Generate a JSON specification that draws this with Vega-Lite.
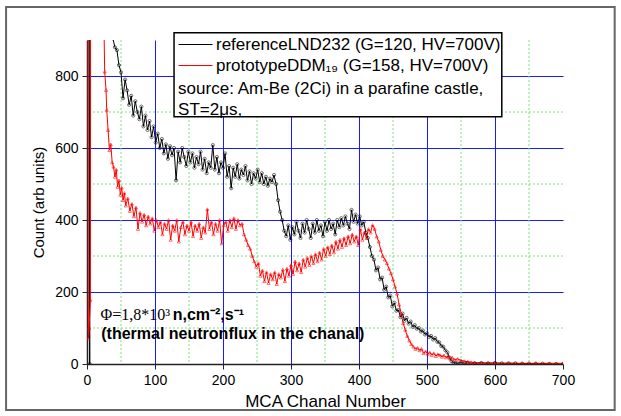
{
  "$schema": "https://vega.github.io/schema/vega-lite/v6.json",
  "width": 476,
  "height": 324,
  "autosize": "none",
  "padding": {"left": 87, "top": 40, "right": 58, "bottom": 52},
  "background": "white",
  "config": {
    "view": {"stroke": null},
    "axis": {
      "labelFont": "Liberation Sans",
      "titleFont": "Liberation Sans",
      "labelFontSize": 14,
      "titleFontWeight": "normal",
      "labelColor": "black",
      "titleColor": "black",
      "domainColor": "#222",
      "domainWidth": 1.5,
      "tickColor": "#222",
      "tickSize": 5,
      "labelOverlap": false,
      "labelFlush": false
    }
  },
  "datasets": {
    "spec": [
      {"ch":1,"cnt":2600,"det":"ref"},{"ch":4,"cnt":0,"det":"ref"},{"ch":5,"cnt":4000,"det":"ref"},{"ch":10,"cnt":3600,"det":"ref"},{"ch":15,"cnt":2900,"det":"ref"},{"ch":20,"cnt":2200,"det":"ref"},{"ch":25,"cnt":1700,"det":"ref"},{"ch":30,"cnt":1350,"det":"ref"},{"ch":35,"cnt":1050,"det":"ref"},{"ch":38,"cnt":905,"det":"ref"},{"ch":41,"cnt":880,"det":"ref"},{"ch":44,"cnt":872,"det":"ref"},{"ch":47,"cnt":830,"det":"ref"},{"ch":50,"cnt":810,"det":"ref"},{"ch":53,"cnt":738,"det":"ref"},{"ch":56,"cnt":790,"det":"ref"},{"ch":59,"cnt":760,"det":"ref"},{"ch":62,"cnt":720,"det":"ref"},{"ch":65,"cnt":745,"det":"ref"},{"ch":68,"cnt":690,"det":"ref"},{"ch":71,"cnt":730,"det":"ref"},{"ch":74,"cnt":700,"det":"ref"},{"ch":77,"cnt":680,"det":"ref"},{"ch":80,"cnt":715,"det":"ref"},{"ch":83,"cnt":660,"det":"ref"},{"ch":86,"cnt":690,"det":"ref"},{"ch":89,"cnt":650,"det":"ref"},{"ch":92,"cnt":675,"det":"ref"},{"ch":95,"cnt":630,"det":"ref"},{"ch":98,"cnt":660,"det":"ref"},{"ch":101,"cnt":615,"det":"ref"},{"ch":104,"cnt":640,"det":"ref"},{"ch":107,"cnt":600,"det":"ref"},{"ch":110,"cnt":625,"det":"ref"},{"ch":113,"cnt":585,"det":"ref"},{"ch":116,"cnt":610,"det":"ref"},{"ch":119,"cnt":570,"det":"ref"},{"ch":122,"cnt":605,"det":"ref"},{"ch":125,"cnt":580,"det":"ref"},{"ch":128,"cnt":600,"det":"ref"},{"ch":131,"cnt":510,"det":"ref"},{"ch":134,"cnt":590,"det":"ref"},{"ch":137,"cnt":560,"det":"ref"},{"ch":140,"cnt":600,"det":"ref"},{"ch":143,"cnt":575,"det":"ref"},{"ch":146,"cnt":550,"det":"ref"},{"ch":149,"cnt":590,"det":"ref"},{"ch":152,"cnt":560,"det":"ref"},{"ch":155,"cnt":585,"det":"ref"},{"ch":158,"cnt":545,"det":"ref"},{"ch":161,"cnt":575,"det":"ref"},{"ch":164,"cnt":555,"det":"ref"},{"ch":167,"cnt":590,"det":"ref"},{"ch":170,"cnt":540,"det":"ref"},{"ch":173,"cnt":570,"det":"ref"},{"ch":176,"cnt":530,"det":"ref"},{"ch":179,"cnt":560,"det":"ref"},{"ch":182,"cnt":545,"det":"ref"},{"ch":185,"cnt":608,"det":"ref"},{"ch":188,"cnt":540,"det":"ref"},{"ch":191,"cnt":575,"det":"ref"},{"ch":194,"cnt":530,"det":"ref"},{"ch":197,"cnt":560,"det":"ref"},{"ch":200,"cnt":545,"det":"ref"},{"ch":203,"cnt":585,"det":"ref"},{"ch":206,"cnt":520,"det":"ref"},{"ch":209,"cnt":550,"det":"ref"},{"ch":212,"cnt":488,"det":"ref"},{"ch":215,"cnt":545,"det":"ref"},{"ch":218,"cnt":520,"det":"ref"},{"ch":221,"cnt":555,"det":"ref"},{"ch":224,"cnt":515,"det":"ref"},{"ch":227,"cnt":540,"det":"ref"},{"ch":230,"cnt":525,"det":"ref"},{"ch":233,"cnt":550,"det":"ref"},{"ch":236,"cnt":510,"det":"ref"},{"ch":239,"cnt":535,"det":"ref"},{"ch":242,"cnt":500,"det":"ref"},{"ch":245,"cnt":530,"det":"ref"},{"ch":248,"cnt":515,"det":"ref"},{"ch":251,"cnt":540,"det":"ref"},{"ch":254,"cnt":505,"det":"ref"},{"ch":257,"cnt":530,"det":"ref"},{"ch":260,"cnt":500,"det":"ref"},{"ch":263,"cnt":520,"det":"ref"},{"ch":266,"cnt":495,"det":"ref"},{"ch":269,"cnt":515,"det":"ref"},{"ch":272,"cnt":505,"det":"ref"},{"ch":275,"cnt":525,"det":"ref"},{"ch":278,"cnt":500,"det":"ref"},{"ch":281,"cnt":455,"det":"ref"},{"ch":284,"cnt":423,"det":"ref"},{"ch":287,"cnt":400,"det":"ref"},{"ch":290,"cnt":370,"det":"ref"},{"ch":293,"cnt":355,"det":"ref"},{"ch":296,"cnt":385,"det":"ref"},{"ch":299,"cnt":345,"det":"ref"},{"ch":302,"cnt":380,"det":"ref"},{"ch":305,"cnt":360,"det":"ref"},{"ch":308,"cnt":395,"det":"ref"},{"ch":311,"cnt":370,"det":"ref"},{"ch":314,"cnt":350,"det":"ref"},{"ch":317,"cnt":390,"det":"ref"},{"ch":320,"cnt":365,"det":"ref"},{"ch":323,"cnt":400,"det":"ref"},{"ch":326,"cnt":375,"det":"ref"},{"ch":329,"cnt":350,"det":"ref"},{"ch":332,"cnt":390,"det":"ref"},{"ch":335,"cnt":365,"det":"ref"},{"ch":338,"cnt":400,"det":"ref"},{"ch":341,"cnt":370,"det":"ref"},{"ch":344,"cnt":385,"det":"ref"},{"ch":347,"cnt":355,"det":"ref"},{"ch":350,"cnt":395,"det":"ref"},{"ch":353,"cnt":370,"det":"ref"},{"ch":356,"cnt":400,"det":"ref"},{"ch":359,"cnt":375,"det":"ref"},{"ch":362,"cnt":390,"det":"ref"},{"ch":365,"cnt":360,"det":"ref"},{"ch":368,"cnt":400,"det":"ref"},{"ch":371,"cnt":380,"det":"ref"},{"ch":374,"cnt":405,"det":"ref"},{"ch":377,"cnt":385,"det":"ref"},{"ch":380,"cnt":410,"det":"ref"},{"ch":383,"cnt":390,"det":"ref"},{"ch":386,"cnt":375,"det":"ref"},{"ch":389,"cnt":428,"det":"ref"},{"ch":392,"cnt":395,"det":"ref"},{"ch":395,"cnt":415,"det":"ref"},{"ch":398,"cnt":390,"det":"ref"},{"ch":401,"cnt":410,"det":"ref"},{"ch":404,"cnt":385,"det":"ref"},{"ch":407,"cnt":395,"det":"ref"},{"ch":410,"cnt":365,"det":"ref"},{"ch":413,"cnt":350,"det":"ref"},{"ch":416,"cnt":325,"det":"ref"},{"ch":419,"cnt":300,"det":"ref"},{"ch":422,"cnt":290,"det":"ref"},{"ch":425,"cnt":260,"det":"ref"},{"ch":428,"cnt":268,"det":"ref"},{"ch":431,"cnt":235,"det":"ref"},{"ch":434,"cnt":240,"det":"ref"},{"ch":437,"cnt":206,"det":"ref"},{"ch":440,"cnt":215,"det":"ref"},{"ch":443,"cnt":185,"det":"ref"},{"ch":446,"cnt":190,"det":"ref"},{"ch":449,"cnt":160,"det":"ref"},{"ch":452,"cnt":170,"det":"ref"},{"ch":455,"cnt":148,"det":"ref"},{"ch":458,"cnt":150,"det":"ref"},{"ch":461,"cnt":130,"det":"ref"},{"ch":464,"cnt":140,"det":"ref"},{"ch":467,"cnt":120,"det":"ref"},{"ch":470,"cnt":128,"det":"ref"},{"ch":473,"cnt":112,"det":"ref"},{"ch":476,"cnt":118,"det":"ref"},{"ch":479,"cnt":103,"det":"ref"},{"ch":482,"cnt":108,"det":"ref"},{"ch":485,"cnt":98,"det":"ref"},{"ch":488,"cnt":100,"det":"ref"},{"ch":491,"cnt":90,"det":"ref"},{"ch":494,"cnt":93,"det":"ref"},{"ch":497,"cnt":82,"det":"ref"},{"ch":500,"cnt":85,"det":"ref"},{"ch":503,"cnt":75,"det":"ref"},{"ch":506,"cnt":78,"det":"ref"},{"ch":509,"cnt":68,"det":"ref"},{"ch":512,"cnt":72,"det":"ref"},{"ch":515,"cnt":62,"det":"ref"},{"ch":518,"cnt":60,"det":"ref"},{"ch":521,"cnt":50,"det":"ref"},{"ch":524,"cnt":48,"det":"ref"},{"ch":527,"cnt":38,"det":"ref"},{"ch":530,"cnt":32,"det":"ref"},{"ch":533,"cnt":18,"det":"ref"},{"ch":536,"cnt":8,"det":"ref"},{"ch":539,"cnt":4,"det":"ref"},{"ch":542,"cnt":3,"det":"ref"},{"ch":545,"cnt":2,"det":"ref"},{"ch":550,"cnt":4,"det":"ref"},{"ch":555,"cnt":2,"det":"ref"},{"ch":560,"cnt":3,"det":"ref"},{"ch":570,"cnt":2,"det":"ref"},{"ch":580,"cnt":3,"det":"ref"},{"ch":590,"cnt":2,"det":"ref"},{"ch":600,"cnt":3,"det":"ref"},{"ch":610,"cnt":2,"det":"ref"},{"ch":620,"cnt":2,"det":"ref"},{"ch":630,"cnt":2,"det":"ref"},{"ch":640,"cnt":1,"det":"ref"},{"ch":650,"cnt":1,"det":"ref"},{"ch":660,"cnt":1,"det":"ref"},{"ch":670,"cnt":1,"det":"ref"},{"ch":680,"cnt":0,"det":"ref"},{"ch":690,"cnt":0,"det":"ref"},{"ch":700,"cnt":0,"det":"ref"},
      {"ch":0,"cnt":3000,"det":"proto"},{"ch":2,"cnt":71,"det":"proto"},{"ch":3,"cnt":99,"det":"proto"},{"ch":5,"cnt":178,"det":"proto"},{"ch":6,"cnt":3200,"det":"proto"},{"ch":10,"cnt":2800,"det":"proto"},{"ch":15,"cnt":2200,"det":"proto"},{"ch":20,"cnt":1500,"det":"proto"},{"ch":24,"cnt":1050,"det":"proto"},{"ch":26,"cnt":812,"det":"proto"},{"ch":28,"cnt":761,"det":"proto"},{"ch":29,"cnt":706,"det":"proto"},{"ch":31,"cnt":650,"det":"proto"},{"ch":33,"cnt":594,"det":"proto"},{"ch":35,"cnt":610,"det":"proto"},{"ch":37,"cnt":560,"det":"proto"},{"ch":39,"cnt":548,"det":"proto"},{"ch":41,"cnt":520,"det":"proto"},{"ch":43,"cnt":540,"det":"proto"},{"ch":45,"cnt":492,"det":"proto"},{"ch":47,"cnt":510,"det":"proto"},{"ch":49,"cnt":470,"det":"proto"},{"ch":51,"cnt":490,"det":"proto"},{"ch":53,"cnt":455,"det":"proto"},{"ch":55,"cnt":475,"det":"proto"},{"ch":57,"cnt":440,"det":"proto"},{"ch":60,"cnt":460,"det":"proto"},{"ch":63,"cnt":425,"det":"proto"},{"ch":66,"cnt":445,"det":"proto"},{"ch":69,"cnt":410,"det":"proto"},{"ch":72,"cnt":435,"det":"proto"},{"ch":75,"cnt":375,"det":"proto"},{"ch":78,"cnt":420,"det":"proto"},{"ch":81,"cnt":395,"det":"proto"},{"ch":84,"cnt":415,"det":"proto"},{"ch":87,"cnt":385,"det":"proto"},{"ch":90,"cnt":410,"det":"proto"},{"ch":93,"cnt":390,"det":"proto"},{"ch":96,"cnt":405,"det":"proto"},{"ch":99,"cnt":370,"det":"proto"},{"ch":102,"cnt":400,"det":"proto"},{"ch":105,"cnt":380,"det":"proto"},{"ch":108,"cnt":395,"det":"proto"},{"ch":111,"cnt":360,"det":"proto"},{"ch":114,"cnt":390,"det":"proto"},{"ch":117,"cnt":375,"det":"proto"},{"ch":120,"cnt":400,"det":"proto"},{"ch":123,"cnt":345,"det":"proto"},{"ch":126,"cnt":385,"det":"proto"},{"ch":129,"cnt":370,"det":"proto"},{"ch":132,"cnt":400,"det":"proto"},{"ch":135,"cnt":340,"det":"proto"},{"ch":138,"cnt":380,"det":"proto"},{"ch":141,"cnt":395,"det":"proto"},{"ch":144,"cnt":360,"det":"proto"},{"ch":147,"cnt":385,"det":"proto"},{"ch":150,"cnt":370,"det":"proto"},{"ch":153,"cnt":395,"det":"proto"},{"ch":156,"cnt":355,"det":"proto"},{"ch":159,"cnt":385,"det":"proto"},{"ch":162,"cnt":370,"det":"proto"},{"ch":165,"cnt":390,"det":"proto"},{"ch":168,"cnt":350,"det":"proto"},{"ch":171,"cnt":380,"det":"proto"},{"ch":174,"cnt":365,"det":"proto"},{"ch":177,"cnt":430,"det":"proto"},{"ch":180,"cnt":375,"det":"proto"},{"ch":183,"cnt":395,"det":"proto"},{"ch":186,"cnt":360,"det":"proto"},{"ch":189,"cnt":390,"det":"proto"},{"ch":192,"cnt":370,"det":"proto"},{"ch":195,"cnt":400,"det":"proto"},{"ch":198,"cnt":335,"det":"proto"},{"ch":201,"cnt":385,"det":"proto"},{"ch":204,"cnt":395,"det":"proto"},{"ch":207,"cnt":370,"det":"proto"},{"ch":210,"cnt":400,"det":"proto"},{"ch":213,"cnt":380,"det":"proto"},{"ch":216,"cnt":405,"det":"proto"},{"ch":219,"cnt":375,"det":"proto"},{"ch":222,"cnt":400,"det":"proto"},{"ch":225,"cnt":385,"det":"proto"},{"ch":228,"cnt":390,"det":"proto"},{"ch":231,"cnt":360,"det":"proto"},{"ch":234,"cnt":345,"det":"proto"},{"ch":237,"cnt":330,"det":"proto"},{"ch":240,"cnt":320,"det":"proto"},{"ch":243,"cnt":300,"det":"proto"},{"ch":246,"cnt":285,"det":"proto"},{"ch":249,"cnt":270,"det":"proto"},{"ch":252,"cnt":280,"det":"proto"},{"ch":255,"cnt":245,"det":"proto"},{"ch":258,"cnt":260,"det":"proto"},{"ch":261,"cnt":230,"det":"proto"},{"ch":264,"cnt":255,"det":"proto"},{"ch":267,"cnt":225,"det":"proto"},{"ch":270,"cnt":250,"det":"proto"},{"ch":273,"cnt":235,"det":"proto"},{"ch":276,"cnt":255,"det":"proto"},{"ch":279,"cnt":222,"det":"proto"},{"ch":282,"cnt":250,"det":"proto"},{"ch":285,"cnt":240,"det":"proto"},{"ch":288,"cnt":262,"det":"proto"},{"ch":291,"cnt":230,"det":"proto"},{"ch":294,"cnt":265,"det":"proto"},{"ch":297,"cnt":245,"det":"proto"},{"ch":300,"cnt":275,"det":"proto"},{"ch":303,"cnt":250,"det":"proto"},{"ch":306,"cnt":285,"det":"proto"},{"ch":309,"cnt":260,"det":"proto"},{"ch":312,"cnt":280,"det":"proto"},{"ch":315,"cnt":255,"det":"proto"},{"ch":318,"cnt":290,"det":"proto"},{"ch":321,"cnt":270,"det":"proto"},{"ch":324,"cnt":295,"det":"proto"},{"ch":327,"cnt":275,"det":"proto"},{"ch":330,"cnt":300,"det":"proto"},{"ch":333,"cnt":280,"det":"proto"},{"ch":336,"cnt":305,"det":"proto"},{"ch":339,"cnt":285,"det":"proto"},{"ch":342,"cnt":310,"det":"proto"},{"ch":345,"cnt":290,"det":"proto"},{"ch":348,"cnt":320,"det":"proto"},{"ch":351,"cnt":300,"det":"proto"},{"ch":354,"cnt":325,"det":"proto"},{"ch":357,"cnt":305,"det":"proto"},{"ch":360,"cnt":330,"det":"proto"},{"ch":363,"cnt":310,"det":"proto"},{"ch":366,"cnt":340,"det":"proto"},{"ch":369,"cnt":320,"det":"proto"},{"ch":372,"cnt":345,"det":"proto"},{"ch":375,"cnt":325,"det":"proto"},{"ch":378,"cnt":350,"det":"proto"},{"ch":381,"cnt":330,"det":"proto"},{"ch":384,"cnt":355,"det":"proto"},{"ch":387,"cnt":335,"det":"proto"},{"ch":390,"cnt":360,"det":"proto"},{"ch":393,"cnt":340,"det":"proto"},{"ch":396,"cnt":355,"det":"proto"},{"ch":399,"cnt":330,"det":"proto"},{"ch":402,"cnt":375,"det":"proto"},{"ch":405,"cnt":345,"det":"proto"},{"ch":408,"cnt":365,"det":"proto"},{"ch":411,"cnt":350,"det":"proto"},{"ch":414,"cnt":375,"det":"proto"},{"ch":417,"cnt":365,"det":"proto"},{"ch":420,"cnt":386,"det":"proto"},{"ch":423,"cnt":375,"det":"proto"},{"ch":426,"cnt":354,"det":"proto"},{"ch":429,"cnt":340,"det":"proto"},{"ch":432,"cnt":317,"det":"proto"},{"ch":435,"cnt":300,"det":"proto"},{"ch":438,"cnt":290,"det":"proto"},{"ch":441,"cnt":280,"det":"proto"},{"ch":444,"cnt":265,"det":"proto"},{"ch":447,"cnt":252,"det":"proto"},{"ch":450,"cnt":235,"det":"proto"},{"ch":453,"cnt":215,"det":"proto"},{"ch":456,"cnt":195,"det":"proto"},{"ch":459,"cnt":165,"det":"proto"},{"ch":462,"cnt":140,"det":"proto"},{"ch":465,"cnt":113,"det":"proto"},{"ch":468,"cnt":95,"det":"proto"},{"ch":471,"cnt":78,"det":"proto"},{"ch":474,"cnt":65,"det":"proto"},{"ch":477,"cnt":55,"det":"proto"},{"ch":480,"cnt":48,"det":"proto"},{"ch":483,"cnt":42,"det":"proto"},{"ch":486,"cnt":45,"det":"proto"},{"ch":489,"cnt":38,"det":"proto"},{"ch":492,"cnt":42,"det":"proto"},{"ch":495,"cnt":30,"det":"proto"},{"ch":498,"cnt":35,"det":"proto"},{"ch":501,"cnt":28,"det":"proto"},{"ch":504,"cnt":32,"det":"proto"},{"ch":507,"cnt":25,"det":"proto"},{"ch":510,"cnt":30,"det":"proto"},{"ch":513,"cnt":22,"det":"proto"},{"ch":516,"cnt":27,"det":"proto"},{"ch":519,"cnt":25,"det":"proto"},{"ch":522,"cnt":20,"det":"proto"},{"ch":525,"cnt":24,"det":"proto"},{"ch":528,"cnt":18,"det":"proto"},{"ch":531,"cnt":22,"det":"proto"},{"ch":534,"cnt":15,"det":"proto"},{"ch":537,"cnt":18,"det":"proto"},{"ch":540,"cnt":12,"det":"proto"},{"ch":545,"cnt":14,"det":"proto"},{"ch":550,"cnt":10,"det":"proto"},{"ch":555,"cnt":8,"det":"proto"},{"ch":560,"cnt":6,"det":"proto"},{"ch":565,"cnt":5,"det":"proto"},{"ch":570,"cnt":4,"det":"proto"},{"ch":580,"cnt":3,"det":"proto"},{"ch":590,"cnt":3,"det":"proto"},{"ch":600,"cnt":2,"det":"proto"},{"ch":620,"cnt":2,"det":"proto"},{"ch":640,"cnt":2,"det":"proto"},{"ch":660,"cnt":2,"det":"proto"},{"ch":680,"cnt":2,"det":"proto"},{"ch":700,"cnt":2,"det":"proto"}
    ]
  },
  "layer": [
    {"data": {"values": [{}]}, "mark": {"type": "rule", "stroke": "#7ee07e", "strokeDash": [2, 2], "strokeWidth": 1}, "encoding": {"x": {"datum": 50, "type": "quantitative", "scale": {"domain": [0, 700], "nice": false}}}},
    {"data": {"values": [{}]}, "mark": {"type": "rule", "stroke": "#7ee07e", "strokeDash": [2, 2], "strokeWidth": 1}, "encoding": {"x": {"datum": 150, "type": "quantitative", "scale": {"domain": [0, 700], "nice": false}}}},
    {"data": {"values": [{}]}, "mark": {"type": "rule", "stroke": "#7ee07e", "strokeDash": [2, 2], "strokeWidth": 1}, "encoding": {"x": {"datum": 250, "type": "quantitative", "scale": {"domain": [0, 700], "nice": false}}}},
    {"data": {"values": [{}]}, "mark": {"type": "rule", "stroke": "#7ee07e", "strokeDash": [2, 2], "strokeWidth": 1}, "encoding": {"x": {"datum": 350, "type": "quantitative", "scale": {"domain": [0, 700], "nice": false}}}},
    {"data": {"values": [{}]}, "mark": {"type": "rule", "stroke": "#7ee07e", "strokeDash": [2, 2], "strokeWidth": 1}, "encoding": {"x": {"datum": 450, "type": "quantitative", "scale": {"domain": [0, 700], "nice": false}}}},
    {"data": {"values": [{}]}, "mark": {"type": "rule", "stroke": "#7ee07e", "strokeDash": [2, 2], "strokeWidth": 1}, "encoding": {"x": {"datum": 550, "type": "quantitative", "scale": {"domain": [0, 700], "nice": false}}}},
    {"data": {"values": [{}]}, "mark": {"type": "rule", "stroke": "#7ee07e", "strokeDash": [2, 2], "strokeWidth": 1}, "encoding": {"x": {"datum": 650, "type": "quantitative", "scale": {"domain": [0, 700], "nice": false}}}},
    {"data": {"values": [{}]}, "mark": {"type": "rule", "stroke": "#7ee07e", "strokeDash": [2, 2], "strokeWidth": 1}, "encoding": {"y": {"datum": 100, "type": "quantitative", "scale": {"domain": [0, 900], "nice": false}}}},
    {"data": {"values": [{}]}, "mark": {"type": "rule", "stroke": "#7ee07e", "strokeDash": [2, 2], "strokeWidth": 1}, "encoding": {"y": {"datum": 300, "type": "quantitative", "scale": {"domain": [0, 900], "nice": false}}}},
    {"data": {"values": [{}]}, "mark": {"type": "rule", "stroke": "#7ee07e", "strokeDash": [2, 2], "strokeWidth": 1}, "encoding": {"y": {"datum": 500, "type": "quantitative", "scale": {"domain": [0, 900], "nice": false}}}},
    {"data": {"values": [{}]}, "mark": {"type": "rule", "stroke": "#7ee07e", "strokeDash": [2, 2], "strokeWidth": 1}, "encoding": {"y": {"datum": 700, "type": "quantitative", "scale": {"domain": [0, 900], "nice": false}}}},
    {
      "data": {"name": "spec"},
      "mark": {"type": "line", "strokeWidth": 1, "clip": true},
      "encoding": {
        "x": {
          "field": "ch", "type": "quantitative",
          "scale": {"domain": [0, 700], "nice": false},
          "axis": {
            "title": "MCA Chanal Number",
            "titleFontSize": 17,
            "titlePadding": 6,
            "values": [0,50,100,150,200,250,300,350,400,450,500,550,600,650,700],
            "labelExpr": "datum.value % 100 === 0 ? datum.label : ''",
            "labelPadding": 4,
            "grid": true,
            "gridColor": {"condition": [{"test": "datum.value === 0 || datum.value === 700", "value": "transparent"}, {"test": "datum.value % 100 === 0", "value": "#1a1aff"}], "value": "transparent"},
            "gridWidth": 1
          }
        },
        "y": {
          "field": "cnt", "type": "quantitative",
          "scale": {"domain": [0, 900], "nice": false},
          "axis": {
            "title": "Count (arb units)",
            "titleFontSize": 15,
            "titlePadding": 8,
            "values": [0,100,200,300,400,500,600,700,800,900],
            "labelExpr": "datum.value % 200 === 0 && datum.value < 900 ? datum.label : ''",
            "labelPadding": 4,
            "grid": true,
            "gridColor": {"condition": [{"test": "datum.value === 0 || datum.value === 900", "value": "transparent"}, {"test": "datum.value % 200 === 0", "value": "#1a1aff"}], "value": "transparent"},
            "gridWidth": 1
          }
        },
        "color": {
          "field": "det", "type": "nominal",
          "scale": {"domain": ["ref", "proto"], "range": ["black", "red"]},
          "legend": {
            "orient": "none",
            "legendX": 105,
            "legendY": -6,
            "title": null,
            "symbolType": "M-2.4,0H1",
            "symbolSize": 400,
            "symbolStrokeWidth": 1,
            "labelFont": "Liberation Sans",
            "labelFontSize": 17,
            "labelColor": "black",
            "labelLimit": 500,
            "labelOffset": 3,
            "rowPadding": 2,
            "padding": 0,
            "labelExpr": "datum.value === 'ref' ? 'referenceLND232 (G=120, HV=700V)' : 'prototypeDDM₁₉ (G=158, HV=700V)'"
          }
        },
        "order": {"field": "ch", "type": "quantitative"}
      }
    },
    {
      "data": {"name": "spec"},
      "mark": {"type": "point", "filled": false, "size": 10, "strokeWidth": 0.8, "clip": true},
      "encoding": {
        "x": {"field": "ch", "type": "quantitative", "scale": {"domain": [0, 700], "nice": false}},
        "y": {"field": "cnt", "type": "quantitative", "scale": {"domain": [0, 900], "nice": false}},
        "stroke": {"condition": {"test": "datum.det === 'ref'", "value": "black"}, "value": "red"},
        "shape": {"condition": {"test": "datum.det === 'ref'", "value": "circle"}, "value": "triangle-up"}
      }
    },
    {
      "data": {"values": [{}]},
      "mark": {"type": "rect", "fill": "white", "stroke": "black", "strokeWidth": 1.5, "clip": false},
      "encoding": {
        "x": {"datum": 128, "type": "quantitative", "scale": {"domain": [0, 700], "nice": false}},
        "x2": {"datum": 610},
        "y": {"datum": 920, "type": "quantitative", "scale": {"domain": [0, 900], "nice": false}},
        "y2": {"datum": 687}
      }
    },
    {
      "data": {"values": [{}]},
      "mark": {"type": "text", "text": "source: Am-Be (2Ci) in a parafine castle,", "align": "left", "baseline": "middle", "font": "Liberation Sans", "fontSize": 17, "color": "black"},
      "encoding": {
        "x": {"datum": 134, "type": "quantitative", "scale": {"domain": [0, 700], "nice": false}},
        "y": {"datum": 764, "type": "quantitative", "scale": {"domain": [0, 900], "nice": false}}
      }
    },
    {
      "data": {"values": [{}]},
      "mark": {"type": "text", "text": "ST=2μs,", "align": "left", "baseline": "middle", "font": "Liberation Sans", "fontSize": 17, "color": "black"},
      "encoding": {
        "x": {"datum": 134, "type": "quantitative", "scale": {"domain": [0, 700], "nice": false}},
        "y": {"datum": 706, "type": "quantitative", "scale": {"domain": [0, 900], "nice": false}}
      }
    },
    {
      "data": {"values": [{}]},
      "mark": {"type": "text", "text": "Φ=1,8*10³", "align": "left", "baseline": "middle", "font": "Liberation Serif", "fontSize": 16, "color": "black"},
      "encoding": {
        "x": {"datum": 20, "type": "quantitative", "scale": {"domain": [0, 700], "nice": false}},
        "y": {"datum": 136, "type": "quantitative", "scale": {"domain": [0, 900], "nice": false}}
      }
    },
    {
      "data": {"values": [{}]},
      "mark": {"type": "text", "text": "n,cm⁻²,s⁻¹", "align": "left", "baseline": "middle", "font": "Liberation Sans", "fontSize": 16, "fontWeight": "bold", "color": "black"},
      "encoding": {
        "x": {"datum": 126, "type": "quantitative", "scale": {"domain": [0, 700], "nice": false}},
        "y": {"datum": 136, "type": "quantitative", "scale": {"domain": [0, 900], "nice": false}}
      }
    },
    {
      "data": {"values": [{}]},
      "mark": {"type": "text", "text": "(thermal neutronflux in the chanal)", "align": "left", "baseline": "middle", "font": "Liberation Sans", "fontSize": 16, "fontWeight": "bold", "color": "black"},
      "encoding": {
        "x": {"datum": 21, "type": "quantitative", "scale": {"domain": [0, 700], "nice": false}},
        "y": {"datum": 82, "type": "quantitative", "scale": {"domain": [0, 900], "nice": false}}
      }
    },
    {
      "data": {"values": [{}]},
      "mark": {"type": "rect", "fill": null, "stroke": "#666", "strokeWidth": 2, "clip": false},
      "encoding": {
        "x": {"datum": -119, "type": "quantitative", "scale": {"domain": [0, 700], "nice": false}},
        "x2": {"datum": 776},
        "y": {"datum": 992, "type": "quantitative", "scale": {"domain": [0, 900], "nice": false}},
        "y2": {"datum": -128}
      }
    }
  ]
}
